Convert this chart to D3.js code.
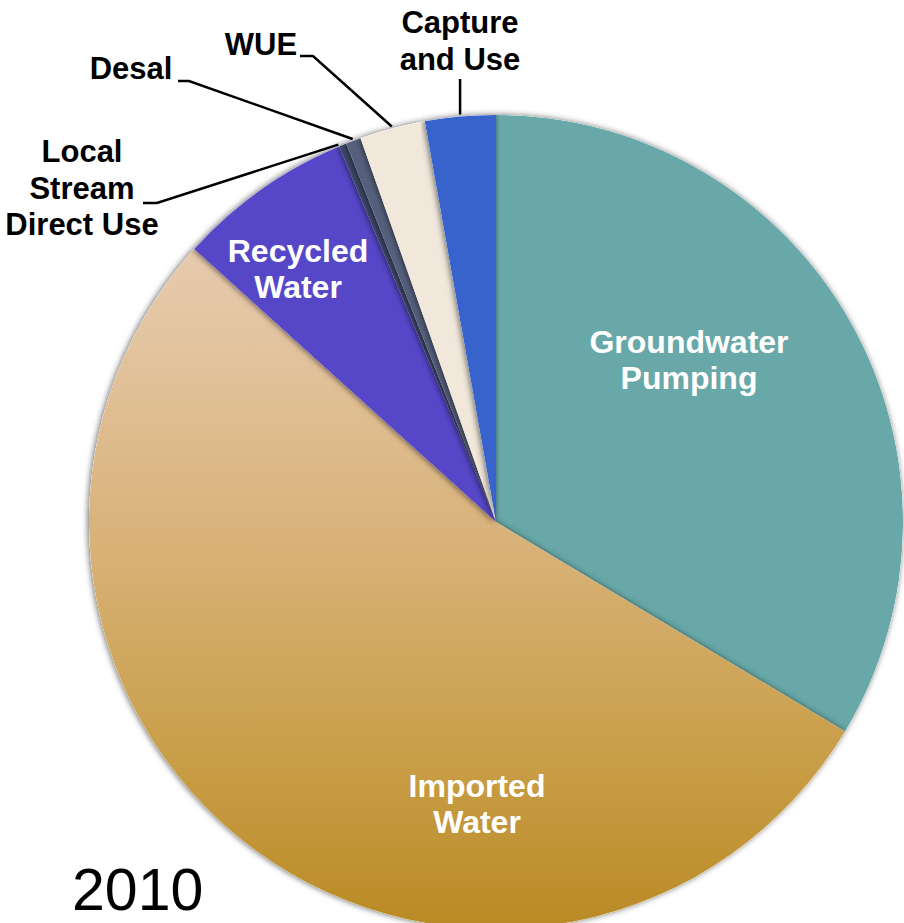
<!DOCTYPE html>
<html>
<head>
<meta charset="utf-8">
<script src="https://cdn.jsdelivr.net/npm/d3@7"></script>
<style>
html,body{margin:0;padding:0;background:#fff;}
svg{display:block;}
text{font-family:"Liberation Sans", Arial, sans-serif;}
</style>
</head>
<body>
<svg id="chart" width="904" height="923"></svg>
<script>
// ---- data ----
const categories = ["Groundwater Pumping","Imported Water","Recycled Water","Local Stream Direct Use","Desal","WUE","Capture and Use"];
const shares = [33.6, 53.1, 7.0, 0.3, 0.6, 2.6, 2.8];
const year = "2010";

// ---- styles / layout ----
const colors = ["#68a8a8","url(#impGrad)","#5646c9","#3c4668","#56607c","#f1e8db","#3763cc"];
const W = 904, H = 923;
const cx = 496, cy = 522, R = 407;

const svg = d3.select("#chart");
const defs = svg.append("defs");

const g1 = defs.append("linearGradient").attr("id","impGrad")
  .attr("gradientUnits","userSpaceOnUse").attr("x1",0).attr("y1",-R).attr("x2",0).attr("y2",R);
g1.append("stop").attr("offset","0%").attr("stop-color","#ead2bd");
g1.append("stop").attr("offset","25%").attr("stop-color","#e4c6a4");
g1.append("stop").attr("offset","55%").attr("stop-color","#d7b074");
g1.append("stop").attr("offset","80%").attr("stop-color","#c89d46");
g1.append("stop").attr("offset","100%").attr("stop-color","#b98a24");

// inner shadow filter
const f = defs.append("filter").attr("id","inner").attr("x","-5%").attr("y","-5%").attr("width","110%").attr("height","110%");
f.append("feGaussianBlur").attr("in","SourceAlpha").attr("stdDeviation",3).attr("result","blur");
f.append("feOffset").attr("in","blur").attr("dx",-1.5).attr("dy",0).attr("result","off");
f.append("feComposite").attr("operator","arithmetic").attr("k2",-1).attr("k3",1).attr("in","SourceAlpha").attr("in2","off").attr("result","diff");
f.append("feFlood").attr("flood-color","#000").attr("flood-opacity",0.6).attr("result","col");
f.append("feComposite").attr("operator","in").attr("in","col").attr("in2","diff").attr("result","shadow");
const fm = f.append("feMerge");
fm.append("feMergeNode").attr("in","SourceGraphic");
fm.append("feMergeNode").attr("in","shadow");

const pie = d3.pie().sort(null).value(d => d);
const arcs = pie(shares);
const arc = d3.arc().innerRadius(0).outerRadius(R);

const gp = svg.append("g").attr("transform",`translate(${cx},${cy})`);
gp.selectAll("path.slice").data(arcs).join("path")
  .attr("class","slice")
  .attr("d",arc)
  .attr("fill",(d,i)=>colors[i])
  .attr("filter","url(#inner)");

// inside labels
const insideLabels = [
  {i:0, lines:["Groundwater","Pumping"], x:689, y:353},
  {i:1, lines:["Imported","Water"], x:477, y:797},
  {i:2, lines:["Recycled","Water"], x:298, y:262}
];
insideLabels.forEach(l=>{
  const t = svg.append("text")
    .attr("text-anchor","middle")
    .attr("font-weight","bold").attr("font-size",32)
    .attr("fill","#fff");
  l.lines.forEach((s,k)=>t.append("tspan").attr("x",l.x).attr("y",l.y+k*36).text(s));
});

// outside labels with leaders
const rimPoint = (angle, r) => [cx + r*Math.sin(angle), cy - r*Math.cos(angle)];
const outside = [
  {i:3, lines:["Local","Stream","Direct Use"], x:82, y:162, lh:36.5, start:[143,203], elbow:[157,203], frac:0.0},
  {i:4, lines:["Desal"], x:131, y:79, lh:36, start:[178,81], elbow:[189,81], frac:0.5},
  {i:5, lines:["WUE"], x:261, y:55, lh:36, start:[300,56], elbow:[313,56], frac:0.5},
  {i:6, lines:["Capture","and Use"], x:460, y:33, lh:37, start:null, elbow:[460,79], frac:0.5}
];
outside.forEach(o=>{
  const t = svg.append("text")
    .attr("text-anchor","middle")
    .attr("font-weight","bold").attr("font-size",31)
    .attr("fill","#000");
  o.lines.forEach((s,k)=>t.append("tspan").attr("x",o.x).attr("y",o.y+k*o.lh).text(s));
  const a = arcs[o.i];
  const ang = a.startAngle + (a.endAngle - a.startAngle)*o.frac;
  const end = rimPoint(ang, R+2);
  const pts = [];
  if (o.start) pts.push(o.start);
  pts.push(o.elbow);
  if (o.i===6) { pts.push([end[0], end[1]]); pts[0] = [end[0], o.elbow[1]]; }
  else pts.push(end);
  svg.append("path")
    .attr("d", d3.line()(pts))
    .attr("fill","none").attr("stroke","#000").attr("stroke-width",2.5);
});

// year
svg.append("text")
  .attr("x",72).attr("y",910)
  .attr("font-size",59).attr("fill","#000")
  .text(year);
</script>
</body>
</html>
